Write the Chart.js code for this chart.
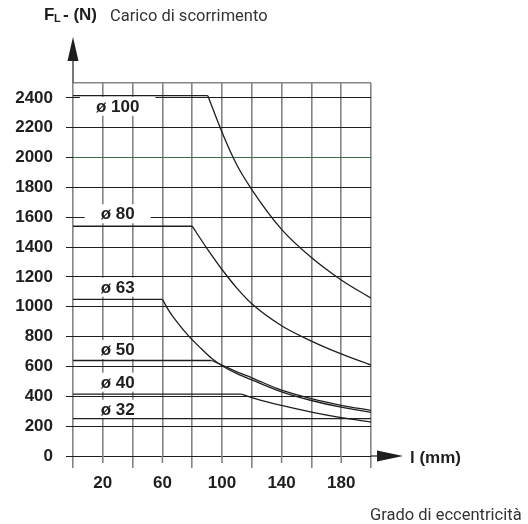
<!DOCTYPE html>
<html>
<head>
<meta charset="utf-8">
<script src="https://cdn.jsdelivr.net/npm/chart.js@4.4.0/dist/chart.umd.min.js"></script>
<style>
  html, body { margin: 0; padding: 0; background: #fff; }
  canvas { display: block; }
</style>
</head>
<body>
<canvas id="chart" width="528" height="524"></canvas>
<script>
// Assi
const yTickValues = [0, 200, 400, 600, 800, 1000, 1200, 1400, 1600, 1800, 2000, 2200, 2400];
const xLabelValues = [20, 60, 100, 140, 180];

// Alesaggi: tratto costante fino al ginocchio
const bores = ['ø 100', 'ø 80', 'ø 63', 'ø 50', 'ø 40', 'ø 32'];
const flatLoad = [2415, 1540, 1050, 640, 415, 250];
const kneeLength = [90.5, 80, 60, 93, 113, 200];

// Tratti decrescenti (l in mm, F in N)
const curveL100 = [90.5, 100, 110, 120, 140, 160, 180, 200];
const curveF100 = [2415, 2170, 1950, 1786, 1519, 1330, 1180, 1058];
const curveL80 = [80, 90, 100, 110, 120, 140, 160, 180, 200];
const curveF80 = [1540, 1390, 1250, 1125, 1020, 873, 770, 684, 610];
const curveL63 = [60, 64, 70, 78, 86, 93, 100, 110, 120, 140, 160, 180, 200];
const curveF63 = [1050, 980, 895, 800, 720, 655, 605, 552, 510, 430, 372, 327, 293];
const curveL50 = [93, 100, 110, 120, 140, 160, 180, 200];
const curveF50 = [640, 610, 564, 524, 441, 384, 340, 306];
const curveL40 = [113, 125, 140, 160, 180, 200];
const curveF40 = [415, 377, 339, 294, 257, 227];

const curveL = [curveL100, curveL80, curveL63, curveL50, curveL40];
const curveF = [curveF100, curveF80, curveF63, curveF50, curveF40];

// posizione etichette (coordinate dati)
const labelAt = { l: 30, F: [2347, 1627, 1135, 717, 498, 317] };

const INK = '#1e1e1e';
const GRID_V = '#858585';
const BOLD = '"Liberation Sans", Arial, sans-serif';
const LIGHT = 'Roboto, "Noto Sans", sans-serif';

const datasets = [];
bores.forEach((b, i) => {
    datasets.push({
        label: b,
        data: [{ x: 0, y: flatLoad[i] }, { x: kneeLength[i], y: flatLoad[i] }],
        borderColor: INK, borderWidth: 1.3, pointRadius: 0, tension: 0
    });
    if (curveL[i]) {
        datasets.push({
            label: b + ' curva',
            data: curveL[i].map((l, k) => ({ x: l, y: curveF[i][k] })),
            borderColor: INK, borderWidth: 1.3, pointRadius: 0,
            cubicInterpolationMode: 'monotone'
        });
    }
});

const decor = {
    id: 'decor',
    beforeDatasetsDraw(chart) {
        const { ctx, scales: { x, y } } = chart;
        ctx.save();
        ctx.font = 'bold 17px ' + BOLD;
        ctx.textAlign = 'center';
        ctx.textBaseline = 'alphabetic';
        bores.forEach((t, i) => {
            const px = x.getPixelForValue(labelAt.l);
            const py = y.getPixelForValue(labelAt.F[i]);
            const w = ctx.measureText(t).width;
            ctx.fillStyle = '#fff';
            ctx.fillRect(px - w / 2 - 16, py - 9, w + 32, 19);
            ctx.fillStyle = INK;
            ctx.fillText(t, px, py + 6);
        });
        ctx.restore();
    },
    afterDraw(chart) {
        const { ctx, chartArea: a, scales: { x, y } } = chart;
        const x0 = x.getPixelForValue(0);
        const y0 = y.getPixelForValue(0);
        ctx.save();

        // tacche corte sotto le etichette
        ctx.strokeStyle = GRID_V;
        ctx.lineWidth = 1.6;
        xLabelValues.forEach(v => {
            const px = x.getPixelForValue(v);
            ctx.beginPath();
            ctx.moveTo(px, y0);
            ctx.lineTo(px, y0 + 7);
            ctx.stroke();
        });

        // asse verticale + freccia
        ctx.strokeStyle = '#555';
        ctx.beginPath();
        ctx.moveTo(x0, a.top);
        ctx.lineTo(x0, 58);
        ctx.stroke();
        ctx.fillStyle = INK;
        ctx.beginPath();
        ctx.moveTo(x0, 37);
        ctx.lineTo(x0 - 5.5, 61);
        ctx.lineTo(x0 + 5.5, 61);
        ctx.closePath();
        ctx.fill();

        // asse orizzontale + freccia
        ctx.strokeStyle = INK;
        ctx.lineWidth = 1.2;
        ctx.beginPath();
        ctx.moveTo(a.right, y0);
        ctx.lineTo(378, y0);
        ctx.stroke();
        ctx.beginPath();
        ctx.moveTo(403, y0);
        ctx.lineTo(377, y0 - 5.5);
        ctx.lineTo(377, y0 + 5.5);
        ctx.closePath();
        ctx.fill();

        // titoli
        ctx.fillStyle = INK;
        ctx.textAlign = 'left';
        ctx.textBaseline = 'alphabetic';
        ctx.font = 'bold 17px ' + BOLD;
        ctx.fillText('F', 44, 20);
        ctx.font = 'bold 11px ' + BOLD;
        ctx.fillText('L', 54, 22);
        ctx.font = 'bold 17px ' + BOLD;
        ctx.fillText('- (N)', 63, 20);
        ctx.font = '16.5px ' + LIGHT;
        ctx.fillStyle = '#333';
        ctx.fillText('Carico di scorrimento', 110, 20.5);

        ctx.fillStyle = INK;
        ctx.font = 'bold 17px ' + BOLD;
        ctx.fillText('l (mm)', 410, 463);
        ctx.font = '16.5px ' + LIGHT;
        ctx.fillStyle = '#333';
        ctx.fillText('Grado di eccentricità', 370, 520);
        ctx.restore();
    }
};

const ctx = document.getElementById('chart').getContext('2d');
const chart = new Chart(ctx, {
    type: 'line',
    data: { datasets: datasets },
    options: {
        responsive: false,
        animation: false,
        layout: { padding: { top: 83, right: 157, left: 0, bottom: 0 } },
        plugins: { legend: { display: false }, tooltip: { enabled: false } },
        scales: {
            x: {
                type: 'linear',
                min: 0,
                max: 200,
                afterFit: s => { s.height = 68; },
                border: { display: false },
                grid: {
                    color: GRID_V,
                    lineWidth: 1.6,
                    tickLength: 12,
                    tickColor: c => xLabelValues.includes(c.tick.value) ? 'rgba(0,0,0,0)' : GRID_V
                },
                ticks: {
                    stepSize: 20,
                    autoSkip: false,
                    maxRotation: 0,
                    padding: 5,
                    color: INK,
                    font: { family: BOLD, weight: 'bold', size: 17 },
                    callback: v => xLabelValues.includes(v) ? String(v) : ''
                }
            },
            y: {
                type: 'linear',
                min: 0,
                max: 2500,
                afterFit: s => { s.width = 73; },
                afterBuildTicks: s => {
                    s.ticks = yTickValues.concat([2500]).map(v => ({ value: v }));
                },
                border: { display: false },
                grid: {
                    color: c => c.tick.value === 2500 ? GRID_V : (c.tick.value === 2000 ? '#3f6e4c' : INK),
                    lineWidth: c => c.tick.value === 2500 ? 1.6 : 1,
                    tickLength: 7,
                    tickColor: c => c.tick.value === 2500 ? 'rgba(0,0,0,0)' : INK
                },
                ticks: {
                    padding: 13,
                    color: INK,
                    font: { family: BOLD, weight: 'bold', size: 17 },
                    callback: v => v === 2500 ? '' : String(v)
                }
            }
        }
    },
    plugins: [decor]
});
</script>
</body>
</html>
